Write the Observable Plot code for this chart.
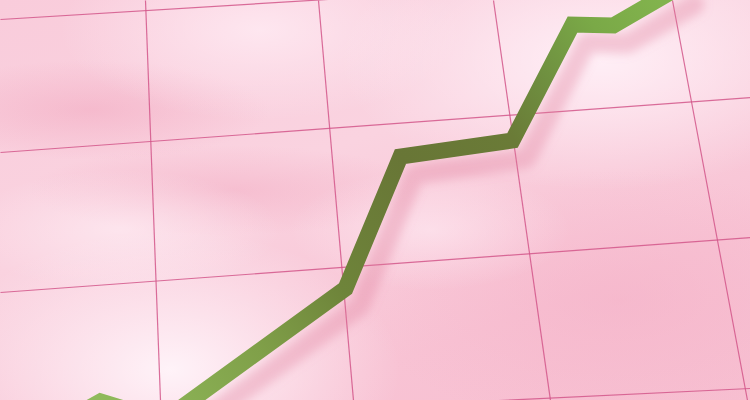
<!DOCTYPE html>
<html>
<head>
<meta charset="utf-8">
<script src="https://cdn.jsdelivr.net/npm/d3@7"></script>
<script src="https://cdn.jsdelivr.net/npm/@observablehq/plot@0.6"></script>
<style>
  html, body { margin: 0; padding: 0; background: #f9cbd9; }
  #chart svg { display: block; }
</style>
</head>
<body>
<div id="chart"></div>
<script>
// Green series (x position, value; value grows upward)
const seriesX = [80, 100, 163, 345, 400, 512, 572, 613, 680];
const seriesV = [-12, -1, -20, 112, 244, 260, 376, 375, 414];

// Perspective grid: vertical lines (x at top edge, x at bottom edge)
const vGridTop = [145, 318, 493, 672];
const vGridBottom = [160, 353, 550, 747];
// Horizontal lines (value at left edge, value at right edge)
const hGridLeft = [381, 248, 108, -24];
const hGridRight = [427, 303, 163, 12];

const W = 750, H = 400;

const series = seriesX.map((x, i) => ({x, v: seriesV[i]}));
const vGrid = vGridTop.map((t, i) => ({x1: t, y1: H, x2: vGridBottom[i], y2: 0}));
const hGrid = hGridLeft.map((l, i) => ({x1: 0, y1: l, x2: W, y2: hGridRight[i]}));

const bg = [
  "radial-gradient(ellipse 230px 140px at 170px 370px, rgba(255,245,250,0.95), rgba(255,245,250,0) 100%)",
  "radial-gradient(ellipse 260px 130px at 600px 60px, rgba(255,240,247,0.95), rgba(255,240,247,0) 100%)",
  "radial-gradient(ellipse 200px 90px at 260px 30px, rgba(255,236,244,0.8), rgba(255,236,244,0) 100%)",
  "radial-gradient(ellipse 140px 60px at 430px 230px, rgba(255,236,244,0.6), rgba(255,236,244,0) 100%)",
  "radial-gradient(ellipse 160px 60px at 120px 230px, rgba(255,240,246,0.6), rgba(255,240,246,0) 100%)",
  "radial-gradient(ellipse 180px 50px at 90px 110px, rgba(240,160,185,0.45), rgba(240,160,185,0) 100%)",
  "radial-gradient(ellipse 200px 45px at 230px 190px, rgba(240,160,185,0.4), rgba(240,160,185,0) 100%)",
  "radial-gradient(ellipse 260px 130px at 620px 300px, rgba(244,175,198,0.5), rgba(244,175,198,0) 100%)",
  "linear-gradient(160deg, #f9ccdb 0%, #fad3e0 40%, #f8c3d4 75%, #f7bfd1 100%)"
].join(",");

const chart = Plot.plot({
  width: W,
  height: H,
  margin: 0,
  x: {domain: [0, W], axis: null},
  y: {domain: [0, H], axis: null},
  style: {background: bg, overflow: "hidden"},
  marks: [
    Plot.link(vGrid, {x1: "x1", y1: "y1", x2: "x2", y2: "y2", stroke: "#d2568a", strokeWidth: 1.2, strokeOpacity: 0.85, clip: true}),
    Plot.link(hGrid, {x1: "x1", y1: "y1", x2: "x2", y2: "y2", stroke: "#d2568a", strokeWidth: 1.2, strokeOpacity: 0.85, clip: true}),
    Plot.line(series, {x: "x", y: "v", stroke: "#e07f9f", strokeWidth: 20, strokeOpacity: 0.35, strokeLinejoin: "miter", dx: 14, dy: 18, clip: true}),
    Plot.line(series, {x: "x", y: "v", stroke: "#6e843a", strokeWidth: 16, strokeLinejoin: "miter", strokeMiterlimit: 10, clip: true})
  ]
});

// gradient for the green band and blur for its shadow
const svg = d3.select(chart);
const defs = svg.insert("defs", ":first-child");
const grad = defs.append("linearGradient")
  .attr("id", "greenGrad")
  .attr("gradientUnits", "userSpaceOnUse")
  .attr("x1", 100).attr("y1", 400).attr("x2", 660).attr("y2", 0);
[[0, "#90ba5b"], [0.23, "#80a049"], [0.38, "#6e843a"], [0.56, "#687636"], [0.71, "#6a7b37"], [0.8, "#6f9040"], [0.9, "#7aa947"], [1, "#82b34d"]]
  .forEach(([o, c]) => grad.append("stop").attr("offset", o).attr("stop-color", c));
const blur = defs.append("filter").attr("id", "shadowBlur")
  .attr("filterUnits", "userSpaceOnUse")
  .attr("x", -50).attr("y", -50).attr("width", W + 100).attr("height", H + 100);
blur.append("feGaussianBlur").attr("stdDeviation", 5);
const lineGroups = svg.selectAll('g[aria-label="line"]').nodes();
if (lineGroups.length >= 2) {
  d3.select(lineGroups[0]).attr("filter", "url(#shadowBlur)");
  d3.select(lineGroups[1]).attr("stroke", "url(#greenGrad)");
  d3.select(lineGroups[1]).selectAll("path").attr("stroke", "url(#greenGrad)");
}

document.getElementById("chart").appendChild(chart);
</script>
</body>
</html>
